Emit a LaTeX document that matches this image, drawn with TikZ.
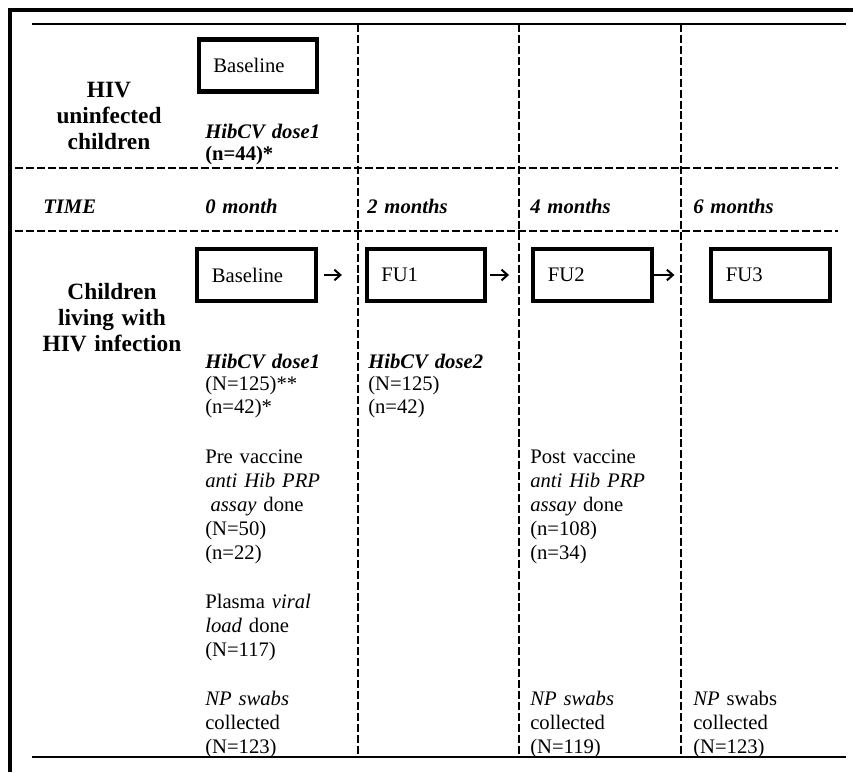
\documentclass[tikz,border=0pt]{standalone}
\usepackage{fontspec}
\setmainfont{Liberation Serif}
\usetikzlibrary{arrows.meta}
\tikzset{
  caja/.style={draw, line width=3.2pt, minimum width=89pt, minimum height=39pt,
    text width=67pt, inner xsep=11pt, align=left},
  txt/.style={anchor=base west, inner sep=0pt, text width=110pt, align=left,
    font=\fontsize{15.5}{18}\selectfont},
  dosis/.style={txt, font=\fontsize{15.5}{17}\selectfont},
  tiempo/.style={txt, font=\fontsize{15.5}{18}\selectfont\bfseries\itshape},
  etiq/.style={anchor=base, inner sep=0pt, text width=130pt, align=center,
    font=\fontsize{17.5}{19.5}\selectfont\bfseries},
  flecha/.style={line width=1.5pt, -{Straight Barb[length=4.5pt,width=8pt]}},
  marco/.style={line width=2.3pt},
  raya/.style={line width=1.5pt},
  punteada/.style={line width=1.3pt, dash pattern=on 6pt off 2.2pt}
}
\begin{document}
\begin{tikzpicture}[x=0.75pt, y=-0.75pt, font=\fontsize{15.5}{18}\selectfont]
  \useasboundingbox (0,0) rectangle (853,772);
  % el marco
  \draw[marco] (10,772) -- (10,10) -- (853,10);
  % las rayas de la tabla
  \draw[raya] (32,24) -- (846,24);
  \draw[raya] (32,757) -- (846,757);
  \foreach \y in {168,231} \draw[punteada] (15,\y) -- (838,\y);
  \foreach \x in {358,519,681} \draw[punteada] (\x,24) -- (\x,757);
  % los no infectados
  \node[etiq] (sano) at (109,97) {HIV\\uninfected\\children};
  \node[caja] (base0) at (258,65.5) {Baseline};
  \node[dosis] (dosis0) at (205,138) {\textbf{\textit{HibCV dose1}}\\\textbf{(n=44)*}};
  % la fila del tiempo
  \node[tiempo] (time) at (43,213) {TIME};
  \node[tiempo] (mes0) at (205,213) {0 month};
  \node[tiempo] (mes2) at (367,213) {2 months};
  \node[tiempo] (mes4) at (530,213) {4 months};
  \node[tiempo] (mes6) at (693,213) {6 months};
  % los que viven con VIH
  \node[etiq] (vih) at (112,299) {Children\\living with\\HIV infection};
  \node[caja] (base) at (256.5,275) {Baseline};
  \node[caja] (fu1) at (426,275) {FU1};
  \node[caja] (fu2) at (592.5,275) {FU2};
  \node[caja] (fu3) at (770.5,275) {FU3};
  \draw[flecha, shorten <=4.5pt, shorten >=17pt] (base) -- (fu1);
  \draw[flecha, shorten <=2pt, shorten >=16.5pt] (fu1) -- (fu2);
  \draw[flecha, shorten <=0pt, shorten >=26pt] (fu2) -- (fu3);
  % lo que se hizo en cada visita
  \node[dosis] (dosis1) at (205,368) {\textbf{\textit{HibCV dose1}}\\(N=125)**\\(n=42)*};
  \node[dosis] (dosis2) at (368,368) {\textbf{\textit{HibCV dose2}}\\(N=125)\\(n=42)};
  \node[txt] (pre) at (205,463) {Pre vaccine\\\textit{anti Hib PRP}\\\hspace*{4pt}\textit{assay} done\\(N=50)\\(n=22)};
  \node[txt] (post) at (530,463) {Post vaccine\\\textit{anti Hib PRP}\\\textit{assay} done\\(n=108)\\(n=34)};
  \node[txt] (carga) at (205,608) {Plasma \textit{viral}\\\textit{load} done\\(N=117)};
  \node[txt] (np0) at (205,705) {\textit{NP swabs}\\collected\\(N=123)};
  \node[txt] (np4) at (530,705) {\textit{NP swabs}\\collected\\(N=119)};
  \node[txt] (np6) at (693,705) {\textit{NP} swabs\\collected\\(N=123)};
\end{tikzpicture}
\end{document}
